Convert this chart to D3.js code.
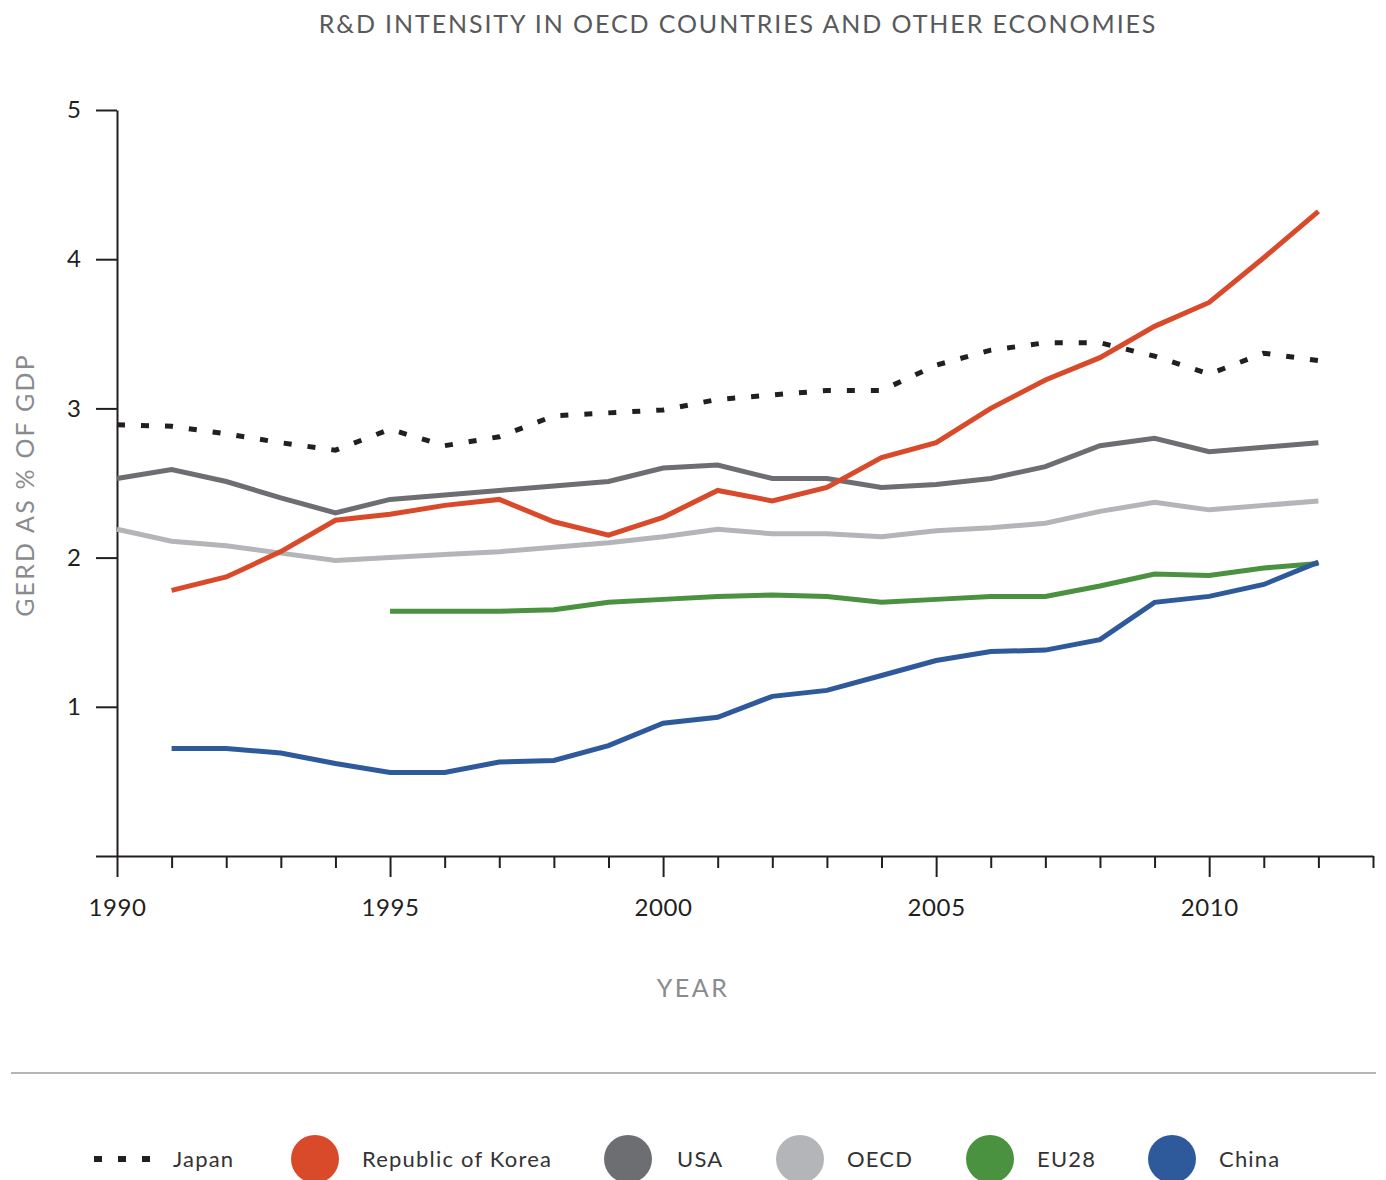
<!DOCTYPE html>
<html>
<head>
<meta charset="utf-8">
<script src="https://cdn.jsdelivr.net/npm/d3@7"></script>
<style>
  body { margin: 0; background: #fff; }
  svg { display: block; font-family: Lato, "Open Sans", sans-serif; }
</style>
</head>
<body>
<div id="chart"></div>
<script>
// Data (GERD as % of GDP)
const years = d3.range(1990, 2013);
const japan = [2.89, 2.88, 2.83, 2.77, 2.72, 2.86, 2.75, 2.81, 2.95, 2.97, 2.99, 3.06, 3.09, 3.12, 3.12, 3.29, 3.39, 3.44, 3.44, 3.35, 3.23, 3.37, 3.32];
const korea = [null, 1.78, 1.87, 2.04, 2.25, 2.29, 2.35, 2.39, 2.24, 2.15, 2.27, 2.45, 2.38, 2.47, 2.67, 2.77, 3.00, 3.19, 3.34, 3.55, 3.71, 4.01, 4.32];
const usa = [2.53, 2.59, 2.51, 2.40, 2.30, 2.39, 2.42, 2.45, 2.48, 2.51, 2.60, 2.62, 2.53, 2.53, 2.47, 2.49, 2.53, 2.61, 2.75, 2.80, 2.71, 2.74, 2.77];
const oecd = [2.19, 2.11, 2.08, 2.03, 1.98, 2.00, 2.02, 2.04, 2.07, 2.10, 2.14, 2.19, 2.16, 2.16, 2.14, 2.18, 2.20, 2.23, 2.31, 2.37, 2.32, 2.35, 2.38];
const eu28 = [null, null, null, null, null, 1.64, 1.64, 1.64, 1.65, 1.70, 1.72, 1.74, 1.75, 1.74, 1.70, 1.72, 1.74, 1.74, 1.81, 1.89, 1.88, 1.93, 1.96];
const china = [null, 0.72, 0.72, 0.69, 0.62, 0.56, 0.56, 0.63, 0.64, 0.74, 0.89, 0.93, 1.07, 1.11, 1.21, 1.31, 1.37, 1.38, 1.45, 1.70, 1.74, 1.82, 1.97];

const seriesNames = ["Japan", "Republic of Korea", "USA", "OECD", "EU28", "China"];
const seriesValues = [japan, korea, usa, oecd, eu28, china];
const seriesColors = ["#231f20", "#d84a2a", "#6d6e71", "#b4b5b8", "#4a9140", "#2e5a9c"];

const yTicks = [0, 1, 2, 3, 4, 5];
const xLabelYears = [1990, 1995, 2000, 2005, 2010];

const W = 1386, H = 1180;
const svg = d3.select("#chart").append("svg")
    .attr("width", W)
    .attr("height", H);

const x = d3.scaleLinear().domain([1990, 2013]).range([117, 1373]);
const y = d3.scaleLinear().domain([0, 5]).range([856, 110]);

// Title
svg.append("text")
    .attr("x", 738)
    .attr("y", 33)
    .attr("text-anchor", "middle")
    .attr("font-size", 25)
    .attr("letter-spacing", 1.9)
    .attr("fill", "#58595b")
    .text("R&D INTENSITY IN OECD COUNTRIES AND OTHER ECONOMIES");

// Y axis
const yAxis = svg.append("g")
    .attr("transform", `translate(${x(1990)},0)`)
    .call(d3.axisLeft(y)
        .tickValues(yTicks)
        .tickSize(21)
        .tickSizeOuter(0)
        .tickPadding(15)
        .tickFormat(d => d === 0 ? "" : d));
yAxis.select(".domain").attr("stroke", "#231f20").attr("stroke-width", 2);
yAxis.selectAll(".tick line").attr("stroke", "#231f20").attr("stroke-width", 2);
yAxis.selectAll(".tick text")
    .attr("font-size", 24)
    .attr("font-family", "Lato, sans-serif")
    .attr("fill", "#231f20");

// X axis
const xAxis = svg.append("g")
    .attr("transform", `translate(0,${y(0)})`)
    .call(d3.axisBottom(x)
        .tickValues(d3.range(1990, 2014))
        .tickSize(12)
        .tickSizeOuter(0)
        .tickFormat(d => xLabelYears.includes(d) ? d : ""));
xAxis.select(".domain").attr("stroke", "#231f20").attr("stroke-width", 2);
xAxis.selectAll(".tick line")
    .attr("stroke", "#231f20")
    .attr("stroke-width", 2)
    .attr("y2", d => d % 5 === 0 ? 21 : 12);
xAxis.selectAll(".tick text")
    .attr("y", 43)
    .attr("font-size", 24)
    .attr("letter-spacing", 0.6)
    .attr("font-family", "Lato, sans-serif")
    .attr("fill", "#231f20");

// Axis titles
svg.append("text")
    .attr("transform", `translate(34,485) rotate(-90)`)
    .attr("text-anchor", "middle")
    .attr("font-size", 25)
    .attr("letter-spacing", 2.2)
    .attr("fill", "#8a8b8e")
    .text("GERD AS % OF GDP");

svg.append("text")
    .attr("x", 693)
    .attr("y", 997)
    .attr("text-anchor", "middle")
    .attr("font-size", 25)
    .attr("letter-spacing", 2.5)
    .attr("fill", "#8a8b8e")
    .text("YEAR");

// Lines
const line = d3.line()
    .defined(d => d[1] !== null)
    .x(d => x(d[0]))
    .y(d => y(d[1]));

const drawOrder = [3, 2, 4, 5, 1, 0];
drawOrder.forEach(i => {
    svg.append("path")
        .datum(years.map((yr, j) => [yr, seriesValues[i][j]]))
        .attr("fill", "none")
        .attr("stroke", seriesColors[i])
        .attr("stroke-width", 5)
        .attr("stroke-dasharray", i === 0 ? "8,16" : null)
        .attr("d", line);
});

// Separator
svg.append("line")
    .attr("x1", 11).attr("x2", 1376)
    .attr("y1", 1073).attr("y2", 1073)
    .attr("stroke", "#b4b5b8")
    .attr("stroke-width", 2);

// Legend
const legendMarkX = [123, 315, 628, 800, 990, 1172];
const legendTextX = [173, 362, 677, 847, 1037, 1219];
const legendY = 1159;
const legend = svg.append("g");

seriesNames.forEach((name, i) => {
    if (i === 0) {
        legend.append("line")
            .attr("x1", 94).attr("x2", 152)
            .attr("y1", legendY).attr("y2", legendY)
            .attr("stroke", seriesColors[0])
            .attr("stroke-width", 6)
            .attr("stroke-dasharray", "8,16");
    } else {
        legend.append("circle")
            .attr("cx", legendMarkX[i])
            .attr("cy", legendY)
            .attr("r", 24)
            .attr("fill", seriesColors[i]);
    }
    legend.append("text")
        .attr("x", legendTextX[i])
        .attr("y", legendY + 8)
        .attr("font-size", 22)
        .attr("letter-spacing", 1.2)
        .attr("fill", "#333")
        .text(name);
});
</script>
</body>
</html>
